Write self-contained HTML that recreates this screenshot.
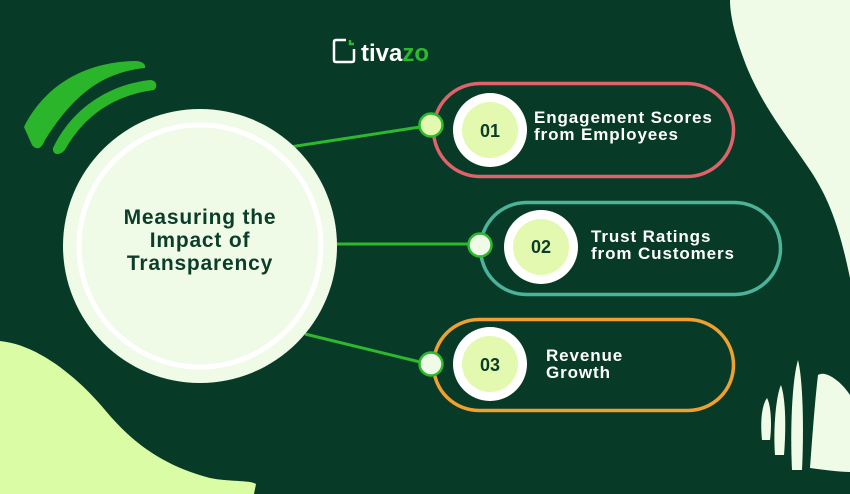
<!DOCTYPE html>
<html><head><meta charset="utf-8"><style>
body{margin:0;width:850px;height:494px;overflow:hidden;background:#073b27;font-family:"Liberation Sans",sans-serif}
svg{position:absolute;left:0;top:0}
</style></head><body>
<svg width="850" height="494" viewBox="0 0 850 494">
<rect width="850" height="494" fill="#073b27"/>
<path d="M730 0 L850 0 L850 278 C840 230 830 200 810 170 C790 140 765 110 748 70 C738 45 730 20 730 0 Z" fill="#effbe6"/>
<path d="M762 440 C760 420 762 405 767 398 C771 405 772 425 770 440 Z" fill="#effbe6"/>
<path d="M775 455 C773 430 776 395 781 385 C786 400 786 430 784 455 Z" fill="#effbe6"/>
<path d="M792 470 C790 430 792 380 798 360 C803 380 804 430 802 470 Z" fill="#effbe6"/>
<path d="M818 375 C825 370 840 380 850 395 L850 472 C840 472 825 470 810 468 C812 440 815 400 818 375 Z" fill="#effbe6"/>
<path d="M0 341 C40 345 80 380 105 410 C130 440 160 465 210 478 C230 482 250 480 256 484 L254 494 L0 494 Z" fill="#d9fca4"/>
<!-- green arcs -->
<path d="M24 127 C45 85 85 62 135 61 C142 61 146 64 145 68 C105 72 75 92 45 140 C41 150 36 150 32 145 Z" fill="#2bb52b"/>
<path d="M53 148 C70 112 105 85 150 80 C157 80 158 87 154 90 C115 95 85 115 66 148 C62 156 52 156 53 148 Z" fill="#2bb52b"/>
<line x1="290" y1="147" x2="420" y2="127" stroke="#2eb82e" stroke-width="3"/>
<line x1="330" y1="244" x2="468" y2="244" stroke="#2eb82e" stroke-width="3"/>
<line x1="305" y1="334" x2="420" y2="362" stroke="#2eb82e" stroke-width="3"/>
<circle cx="200" cy="246" r="137" fill="#effbe6"/>
<circle cx="200" cy="246" r="121" fill="none" stroke="#ffffff" stroke-width="5"/>
<g font-family="Liberation Sans" font-weight="bold" font-size="21" letter-spacing="0.8" fill="#0b3d2a" text-anchor="middle">
<text x="200" y="224">Measuring the</text>
<text x="200" y="247">Impact of</text>
<text x="200" y="270">Transparency</text></g>
<rect x="433.5" y="83.5" width="300" height="93" rx="46.5" fill="none" stroke="#e0626a" stroke-width="3.5"/>
<rect x="480.5" y="202.5" width="300" height="92" rx="46" fill="none" stroke="#4cb39a" stroke-width="3.5"/>
<rect x="433.5" y="319.5" width="300" height="91" rx="45.5" fill="none" stroke="#f0a030" stroke-width="3.5"/>
<circle cx="490" cy="130" r="37" fill="#fff"/><circle cx="490" cy="130" r="28" fill="#e2f9af"/>
<circle cx="541" cy="247" r="37" fill="#fff"/><circle cx="541" cy="247" r="28" fill="#e2f9af"/>
<circle cx="490" cy="364" r="37" fill="#fff"/><circle cx="490" cy="364" r="28" fill="#e2f9af"/>
<g font-family="Liberation Sans" font-weight="bold" font-size="18" fill="#0b3d2a" text-anchor="middle">
<text x="490" y="137">01</text><text x="541" y="253">02</text><text x="490" y="371">03</text></g>
<circle cx="431" cy="125" r="11.5" fill="#e2f9af" stroke="#2eb82e" stroke-width="2.5"/>
<circle cx="480" cy="245" r="11.5" fill="#effbe6" stroke="#2eb82e" stroke-width="2.5"/>
<circle cx="431" cy="364" r="11.5" fill="#effbe6" stroke="#2eb82e" stroke-width="2.5"/>
<g font-family="Liberation Sans" font-weight="bold" font-size="17" letter-spacing="0.9" fill="#fff">
<text x="534" y="123">Engagement Scores</text><text x="534" y="140">from Employees</text>
<text x="591" y="242">Trust Ratings</text><text x="591" y="259">from Customers</text>
<text x="546" y="361">Revenue</text><text x="546" y="378">Growth</text></g>
<path d="M346 40 L336 40 Q334 40 334 42 L334 60 Q334 62 336 62 L352 62 Q354 62 354 60 L354 49" fill="none" stroke="#fff" stroke-width="2.5"/>
<path d="M350 40 L350 44 L354 44" fill="none" stroke="#2eb82e" stroke-width="2.5"/>
<text x="361" y="61" font-family="Liberation Sans" font-weight="bold" font-size="24" fill="#fff">tiva<tspan fill="#2eb82e">zo</tspan></text>
</svg>
</body></html>
